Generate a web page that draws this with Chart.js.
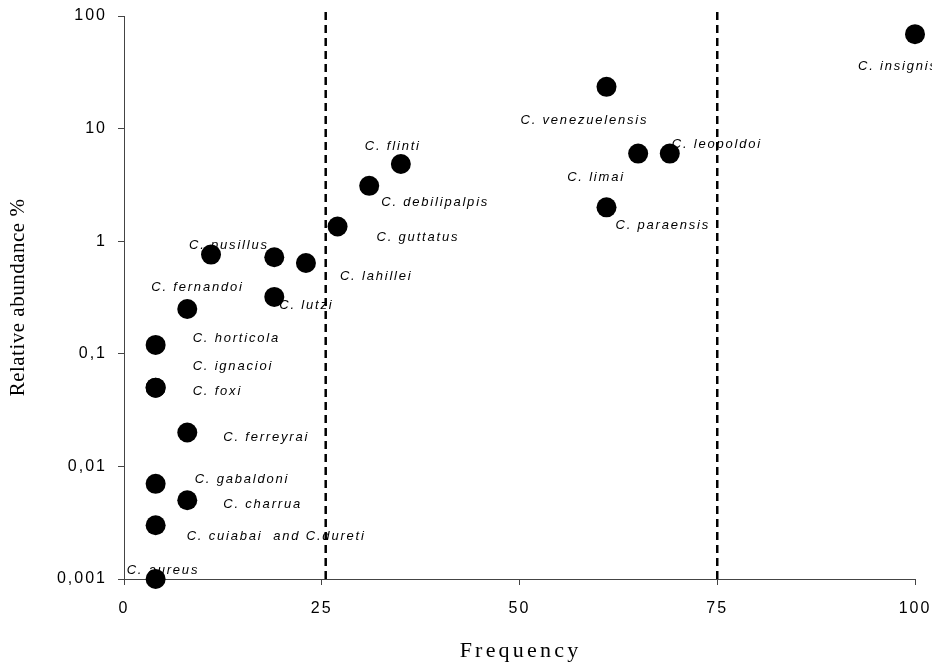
<!DOCTYPE html>
<html><head><meta charset="utf-8">
<script src="https://cdn.jsdelivr.net/npm/chart.js@4"></script>
<style>html,body{margin:0;padding:0;background:#fff}#wrap{width:932px;height:664px}</style>
</head><body><div id="wrap"><canvas id="c" width="932" height="664"></canvas></div>
<script>
// ---- data ----
const species = [
  'C. aureus', 'C. cuiabai  and C.dureti', 'C. gabaldoni', 'C. charrua', 'C. ferreyrai',
  'C. foxi', 'C. ignacioi', 'C. horticola', 'C. fernandoi', 'C. pusillus', '',
  'C. lahillei', 'C. lutzi', 'C. guttatus', 'C. debilipalpis', 'C. flinti',
  'C. venezuelensis', 'C. limai', 'C. leopoldoi', 'C. paraensis', 'C. insignis'
];
const frequency = [4, 4, 4, 8, 8, 4, 4, 4, 8, 11, 19, 23, 19, 27, 31, 35, 61, 65, 69, 61, 100];
const abundance = [0.001, 0.003, 0.007, 0.005, 0.02, 0.05, 0.05, 0.12, 0.25, 0.76, 0.72,
  0.64, 0.32, 1.35, 3.1, 4.85, 23.5, 6, 6, 2, 69];
const boundaryFrequencies = [25.5, 75];
const boundaryRange = [0.001, 116];
const xTickValues = [0, 25, 50, 75, 100];
const yTickValues = [0.001, 0.01, 0.1, 1, 10, 100];
const yTickLabels = ['0,001', '0,01', '0,1', '1', '10', '100'];
const xTitle = 'Frequency';
const yTitle = 'Relative abundance %';

// ---- label placement (pixel offsets from each point) ----
const labelOffsets = [
  [-29, -9], [31, 11], [39, -4], [36, 4], [36, 5],
  [37, 4], [37, -21], [37, -6], [-36, -22], [-22, -9], [0, 0],
  [34, 13], [5, 8], [39, 11], [12, 17], [-36, -18],
  [-86, 34], [-71, 24], [2, -9], [9, 18], [-57, 32]
];

const labelPlugin = {
  id: 'speciesLabels',
  beforeDraw(chart) {
    chart.ctx.letterSpacing = '2px';
  },
  beforeDatasetsDraw(chart) {
    const meta = chart.getDatasetMeta(0);
    const ctx = chart.ctx;
    ctx.save();
    ctx.font = 'italic 13px "Liberation Sans", Arial, sans-serif';
    ctx.letterSpacing = '1.8px';
    ctx.fillStyle = '#000';
    ctx.textBaseline = 'middle';
    ctx.textAlign = 'left';
    meta.data.forEach((pt, i) => {
      const name = species[i];
      if (!name) return;
      const o = labelOffsets[i];
      ctx.fillText(name, pt.x + o[0], pt.y + o[1]);
    });
    ctx.restore();
  },
  afterDraw(chart) {
    const ctx = chart.ctx;
    const a = chart.chartArea;
    ctx.save();
    ctx.fillStyle = '#000';
    ctx.textAlign = 'center';
    ctx.textBaseline = 'middle';
    ctx.font = '22px "Liberation Serif", "Times New Roman", serif';
    ctx.letterSpacing = '3.2px';
    ctx.fillText(xTitle, (a.left + a.right) / 2 + 1, 651);
    ctx.translate(18, (a.top + a.bottom) / 2);
    ctx.rotate(-Math.PI / 2);
    ctx.font = '21px "Liberation Serif", "Times New Roman", serif';
    ctx.letterSpacing = '0.5px';
    ctx.fillText(yTitle, 0, 0);
    ctx.restore();
  }
};

const points = frequency.map((f, i) => ({ x: f, y: abundance[i] }));
const datasets = [{
  type: 'scatter',
  data: points,
  backgroundColor: '#000',
  borderColor: '#000',
  pointRadius: 10,
  pointHoverRadius: 10,
  pointBorderWidth: 0,
  clip: false
}];
boundaryFrequencies.forEach(f => {
  datasets.push({
    type: 'line',
    data: boundaryRange.map(y => ({ x: f, y: y })),
    borderColor: '#000',
    borderWidth: 2.5,
    borderDash: [8, 5],
    pointRadius: 0,
    clip: false,
    fill: false
  });
});

new Chart(document.getElementById('c'), {
  type: 'scatter',
  data: { datasets },
  plugins: [labelPlugin],
  options: {
    responsive: false,
    animation: false,
    layout: { padding: { top: 16, right: 17, bottom: 0, left: 0 } },
    plugins: { legend: { display: false }, tooltip: { enabled: false } },
    scales: {
      x: {
        type: 'linear', min: 0, max: 100,
        afterBuildTicks: s => { s.ticks = xTickValues.map(v => ({ value: v })); },
        afterFit: s => { s.height = 85; s.paddingLeft = 0; s.paddingRight = 0; },
        ticks: { color: '#000', font: { family: '"Liberation Sans", Arial, sans-serif', size: 16 }, padding: 14, maxRotation: 0, autoSkip: false },
        grid: { drawOnChartArea: false, tickLength: 6, color: '#444', tickColor: '#444', tickWidth: 1 },
        border: { color: '#444', width: 1 }
      },
      y: {
        type: 'logarithmic', min: 0.001, max: 100,
        afterBuildTicks: s => { s.ticks = yTickValues.map(v => ({ value: v })); },
        afterFit: s => { s.width = 124; s.paddingTop = 0; s.paddingBottom = 0; },
        ticks: {
          color: '#000', font: { family: '"Liberation Sans", Arial, sans-serif', size: 16 }, padding: 11, autoSkip: false,
          callback: v => {
            const i = yTickValues.findIndex(t => Math.abs(Math.log10(t) - Math.log10(v)) < 1e-6);
            return i >= 0 ? yTickLabels[i] : '';
          }
        },
        grid: { drawOnChartArea: false, tickLength: 6, color: '#444', tickColor: '#444', tickWidth: 1 },
        border: { color: '#444', width: 1 }
      }
    }
  }
});
</script>
</body></html>
